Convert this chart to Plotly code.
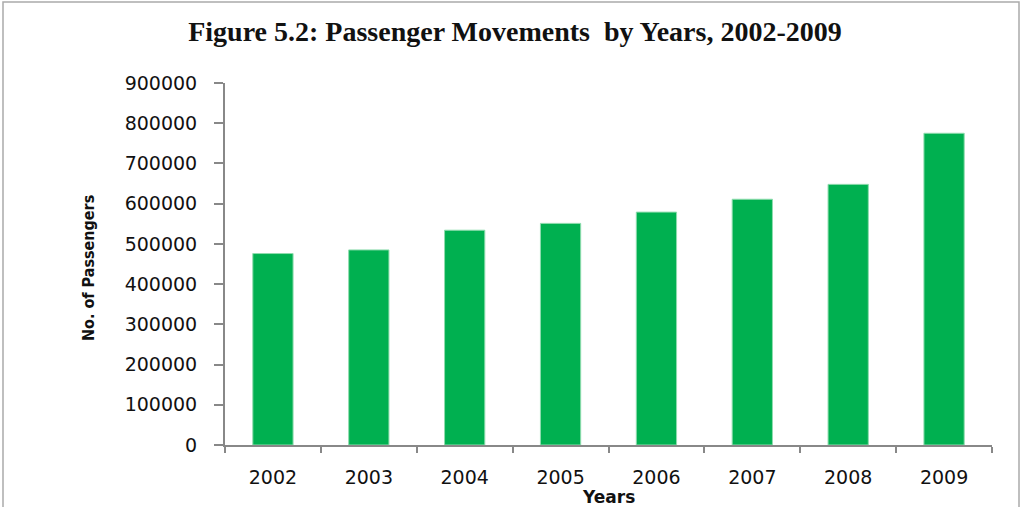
import plotly.graph_objects as go

years = ["2002", "2003", "2004", "2005", "2006", "2007", "2008", "2009"]
passengers = [476000, 485000, 534000, 551000, 579000, 611000, 648000, 775000]
y_ticks = [0, 100000, 200000, 300000, 400000, 500000, 600000, 700000, 800000, 900000]

W, H = 1021, 507
L, R, T, B = 225, 29, 83, 62
pw = W - L - R
ph = H - T - B

fig = go.Figure()
fig.add_trace(go.Bar(
    x=years, y=passengers,
    marker=dict(color="#00B050", line=dict(color="#8fdcae", width=1)),
    width=0.42,
))

fig.update_layout(
    width=W, height=H,
    margin=dict(l=L, r=R, t=T, b=B, pad=0),
    paper_bgcolor="white", plot_bgcolor="white",
    showlegend=False,
    title=dict(
        text="<b>Figure 5.2: Passenger Movements  by Years, 2002-2009</b>",
        font=dict(family="Liberation Serif", size=28, color="#111"),
        x=515 / W, xanchor="center", xref="container",
        y=1 - 31 / H, yanchor="middle", yref="container",
    ),
    xaxis=dict(
        type="category",
        showline=True, linecolor="#888", linewidth=2,
        ticks="outside", tickson="boundaries", ticklen=6, tickcolor="#888", tickwidth=2,
        tickfont=dict(family="DejaVu Sans", size=19, color="#111"),
        ticklabelstandoff=14,
        showgrid=False, zeroline=False,
    ),
    yaxis=dict(
        range=[0, 900000], tickvals=y_ticks, ticktext=[str(v) for v in y_ticks],
        showline=True, linecolor="#888", linewidth=2,
        ticks="outside", ticklen=9, tickcolor="#888", tickwidth=2,
        tickfont=dict(family="DejaVu Sans", size=19, color="#111"),
        ticklabelstandoff=13,
        showgrid=False, zeroline=False,
    ),
    annotations=[
        dict(text="<b>No. of Passengers</b>", textangle=-90,
             xref="paper", yref="paper",
             x=(88 - L) / pw, y=(H - B - 268) / ph,
             xanchor="center", yanchor="middle", showarrow=False,
             font=dict(family="DejaVu Sans Condensed", size=16, color="#111")),
        dict(text="<b>Years</b>",
             xref="paper", yref="paper",
             x=0.5, y=-(497 - (H - B)) / ph,
             xanchor="center", yanchor="middle", showarrow=False,
             font=dict(family="DejaVu Sans", size=17, color="#111")),
    ],
    shapes=[
        dict(type="rect", xref="paper", yref="paper",
             x0=(3 - L) / pw, x1=(1019 - L) / pw,
             y0=-(H + 20 - (H - B)) / ph, y1=(H - B - 2) / ph,
             line=dict(color="#aaa", width=1.5), fillcolor="rgba(0,0,0,0)", layer="below"),
    ],
)

fig.write_html("out.html")
